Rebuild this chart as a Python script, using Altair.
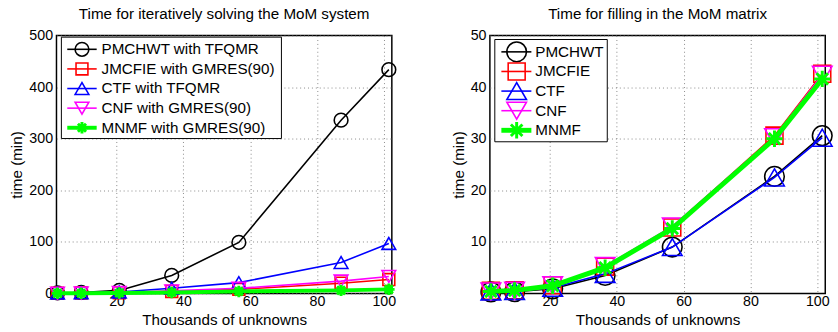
import altair as alt
import pandas as pd

# ---- data -------------------------------------------------------------
x_k = [2.3, 9.4, 20.8, 36.5, 56.6, 87.2, 101.5]
series = ["PMCHWT", "JMCFIE", "CTF", "CNF", "MNMF"]

solve_PMCHWT = [1.0, 2.0, 6.0, 35.0, 99.0, 336.0, 434.0]
solve_JMCFIE = [0.5, 0.8, 1.5, 4.0, 8.0, 20.0, 27.0]
solve_CTF = [1.0, 1.5, 3.0, 10.0, 21.0, 60.0, 97.0]
solve_CNF = [0.5, 0.8, 1.8, 5.0, 10.0, 24.0, 33.0]
solve_MNMF = [0.3, 0.5, 1.0, 2.0, 4.0, 6.0, 8.0]

fill_PMCHWT = [0.3, 0.35, 0.9, 3.5, 9.0, 22.7, 30.6]
fill_JMCFIE = [0.5, 0.6, 1.6, 5.2, 12.8, 30.6, 42.6]
fill_CTF = [0.4, 0.5, 1.1, 3.8, 9.0, 22.5, 30.2]
fill_CNF = [0.4, 0.5, 1.6, 5.3, 13.0, 30.3, 42.4]
fill_MNMF = [0.4, 0.6, 1.5, 5.0, 12.6, 30.0, 41.6]

legend_solve = ["PMCHWT with TFQMR", "JMCFIE with GMRES(90)", "CTF with TFQMR",
                "CNF with GMRES(90)", "MNMF with GMRES(90)"]
legend_fill = ["PMCHWT", "JMCFIE", "CTF", "CNF", "MNMF"]

x_ticks = [20, 40, 60, 80, 100]
y_ticks_solve = [0, 100, 200, 300, 400, 500]
y_ticks_fill = [10, 20, 30, 40, 50]

# ---- styles -----------------------------------------------------------
FONT = "Liberation Sans"
colors = {"PMCHWT": "#000000", "JMCFIE": "#ff0000", "CTF": "#0000ff",
          "CNF": "#ff00ff", "MNMF": "#00ff00"}
ASTER = "M-1,0L1,0M0,-1L0,1M-0.7,-0.7L0.7,0.7M-0.7,0.7L0.7,-0.7"
shapes = {"PMCHWT": "circle", "JMCFIE": "square", "CTF": "triangle-up",
          "CNF": "triangle-down", "MNMF": ASTER}
size_scale = {"PMCHWT": 1.0, "JMCFIE": 0.75, "CTF": 1.0, "CNF": 1.0, "MNMF": 0.7}

W, H = 342, 263


def panel(title, vals, labels, ydom, yticks, msize, gw, lgd):
    xs = alt.X("x:Q", scale=alt.Scale(domain=[2.0, 102.4], nice=False, zero=False),
               axis=alt.Axis(values=x_ticks, title="Thousands of unknowns"))
    ys = alt.Y("y:Q", scale=alt.Scale(domain=ydom, nice=False),
               axis=alt.Axis(values=yticks, title="time (min)"))
    layers = []
    for s in series:
        df = pd.DataFrame({"x": x_k, "y": vals[s]})
        base = alt.Chart(df).encode(x=xs, y=ys)
        lw = gw if s == "MNMF" else 1.6
        sw = 3.0 if s == "MNMF" else 1.6
        layers.append(base.mark_line(color=colors[s], strokeWidth=lw))
        layers.append(base.mark_point(shape=shapes[s], size=msize * size_scale[s],
                                      filled=False, color=colors[s], strokeWidth=sw,
                                      opacity=1))
    # legend box
    bx0, bx1, by0, by1, top, lx0, lx1, mx, tx = lgd
    one = alt.Chart(pd.DataFrame({"a": [0]}))
    layers.append(one.mark_rect(fill="white", stroke="black", strokeWidth=1).encode(
        x=alt.value(bx0), x2=alt.value(bx1), y=alt.value(by0), y2=alt.value(by1)))
    for i, s in enumerate(series):
        yy = top + i * 20
        lw = gw if s == "MNMF" else 1.6
        sw = 3.0 if s == "MNMF" else 1.6
        layers.append(one.mark_rule(color=colors[s], strokeWidth=lw).encode(
            x=alt.value(lx0), x2=alt.value(lx1), y=alt.value(yy)))
        layers.append(one.mark_point(shape=shapes[s], size=msize * size_scale[s],
                                     filled=False, color=colors[s], strokeWidth=sw,
                                     opacity=1).encode(x=alt.value(mx), y=alt.value(yy)))
        layers.append(one.mark_text(text=labels[i], align="left", baseline="middle",
                                    font=FONT, fontSize=15.5, color="black").encode(
            x=alt.value(tx), y=alt.value(yy)))
    return alt.layer(*layers).properties(
        width=W, height=H,
        title=alt.TitleParams(title, fontSize=15.5, fontWeight="normal", font=FONT,
                              color="black", offset=5.5))


left = panel("Time for iteratively solving the MoM system",
             {"PMCHWT": solve_PMCHWT, "JMCFIE": solve_JMCFIE, "CTF": solve_CTF,
              "CNF": solve_CNF, "MNMF": solve_MNMF},
             legend_solve, [0, 500], y_ticks_solve, 196, 4,
             (5, 229.4, 1.6, 105, 14, 11, 41, 26, 46))
right = panel("Time for filling in the MoM matrix",
              {"PMCHWT": fill_PMCHWT, "JMCFIE": fill_JMCFIE, "CTF": fill_CTF,
               "CNF": fill_CNF, "MNMF": fill_MNMF},
              legend_fill, [0, 50], y_ticks_fill, 400, 5,
              (5, 119.7, 4, 108.3, 16.6, 11.7, 42.3, 27.3, 46.3))

chart = alt.hconcat(left, right, spacing=50).properties(
    padding={"left": 9.6, "top": 3, "right": 0, "bottom": 0},
    background="white",
).configure_view(stroke="black", strokeWidth=1.5).configure_axis(
    labelFont=FONT, labelFontSize=14.5, labelColor="black", labelPadding=4,
    titleFont=FONT, titleFontSize=15.5, titleFontWeight="normal", titleColor="black",
    titlePadding=4, domain=False, ticks=False,
    grid=True, gridColor="#888888", gridDash=[1, 3], gridWidth=1,
).configure_axisX(labelPadding=1, titlePadding=5)

chart.save("out.html", embed_options={"renderer": "svg", "actions": False})
